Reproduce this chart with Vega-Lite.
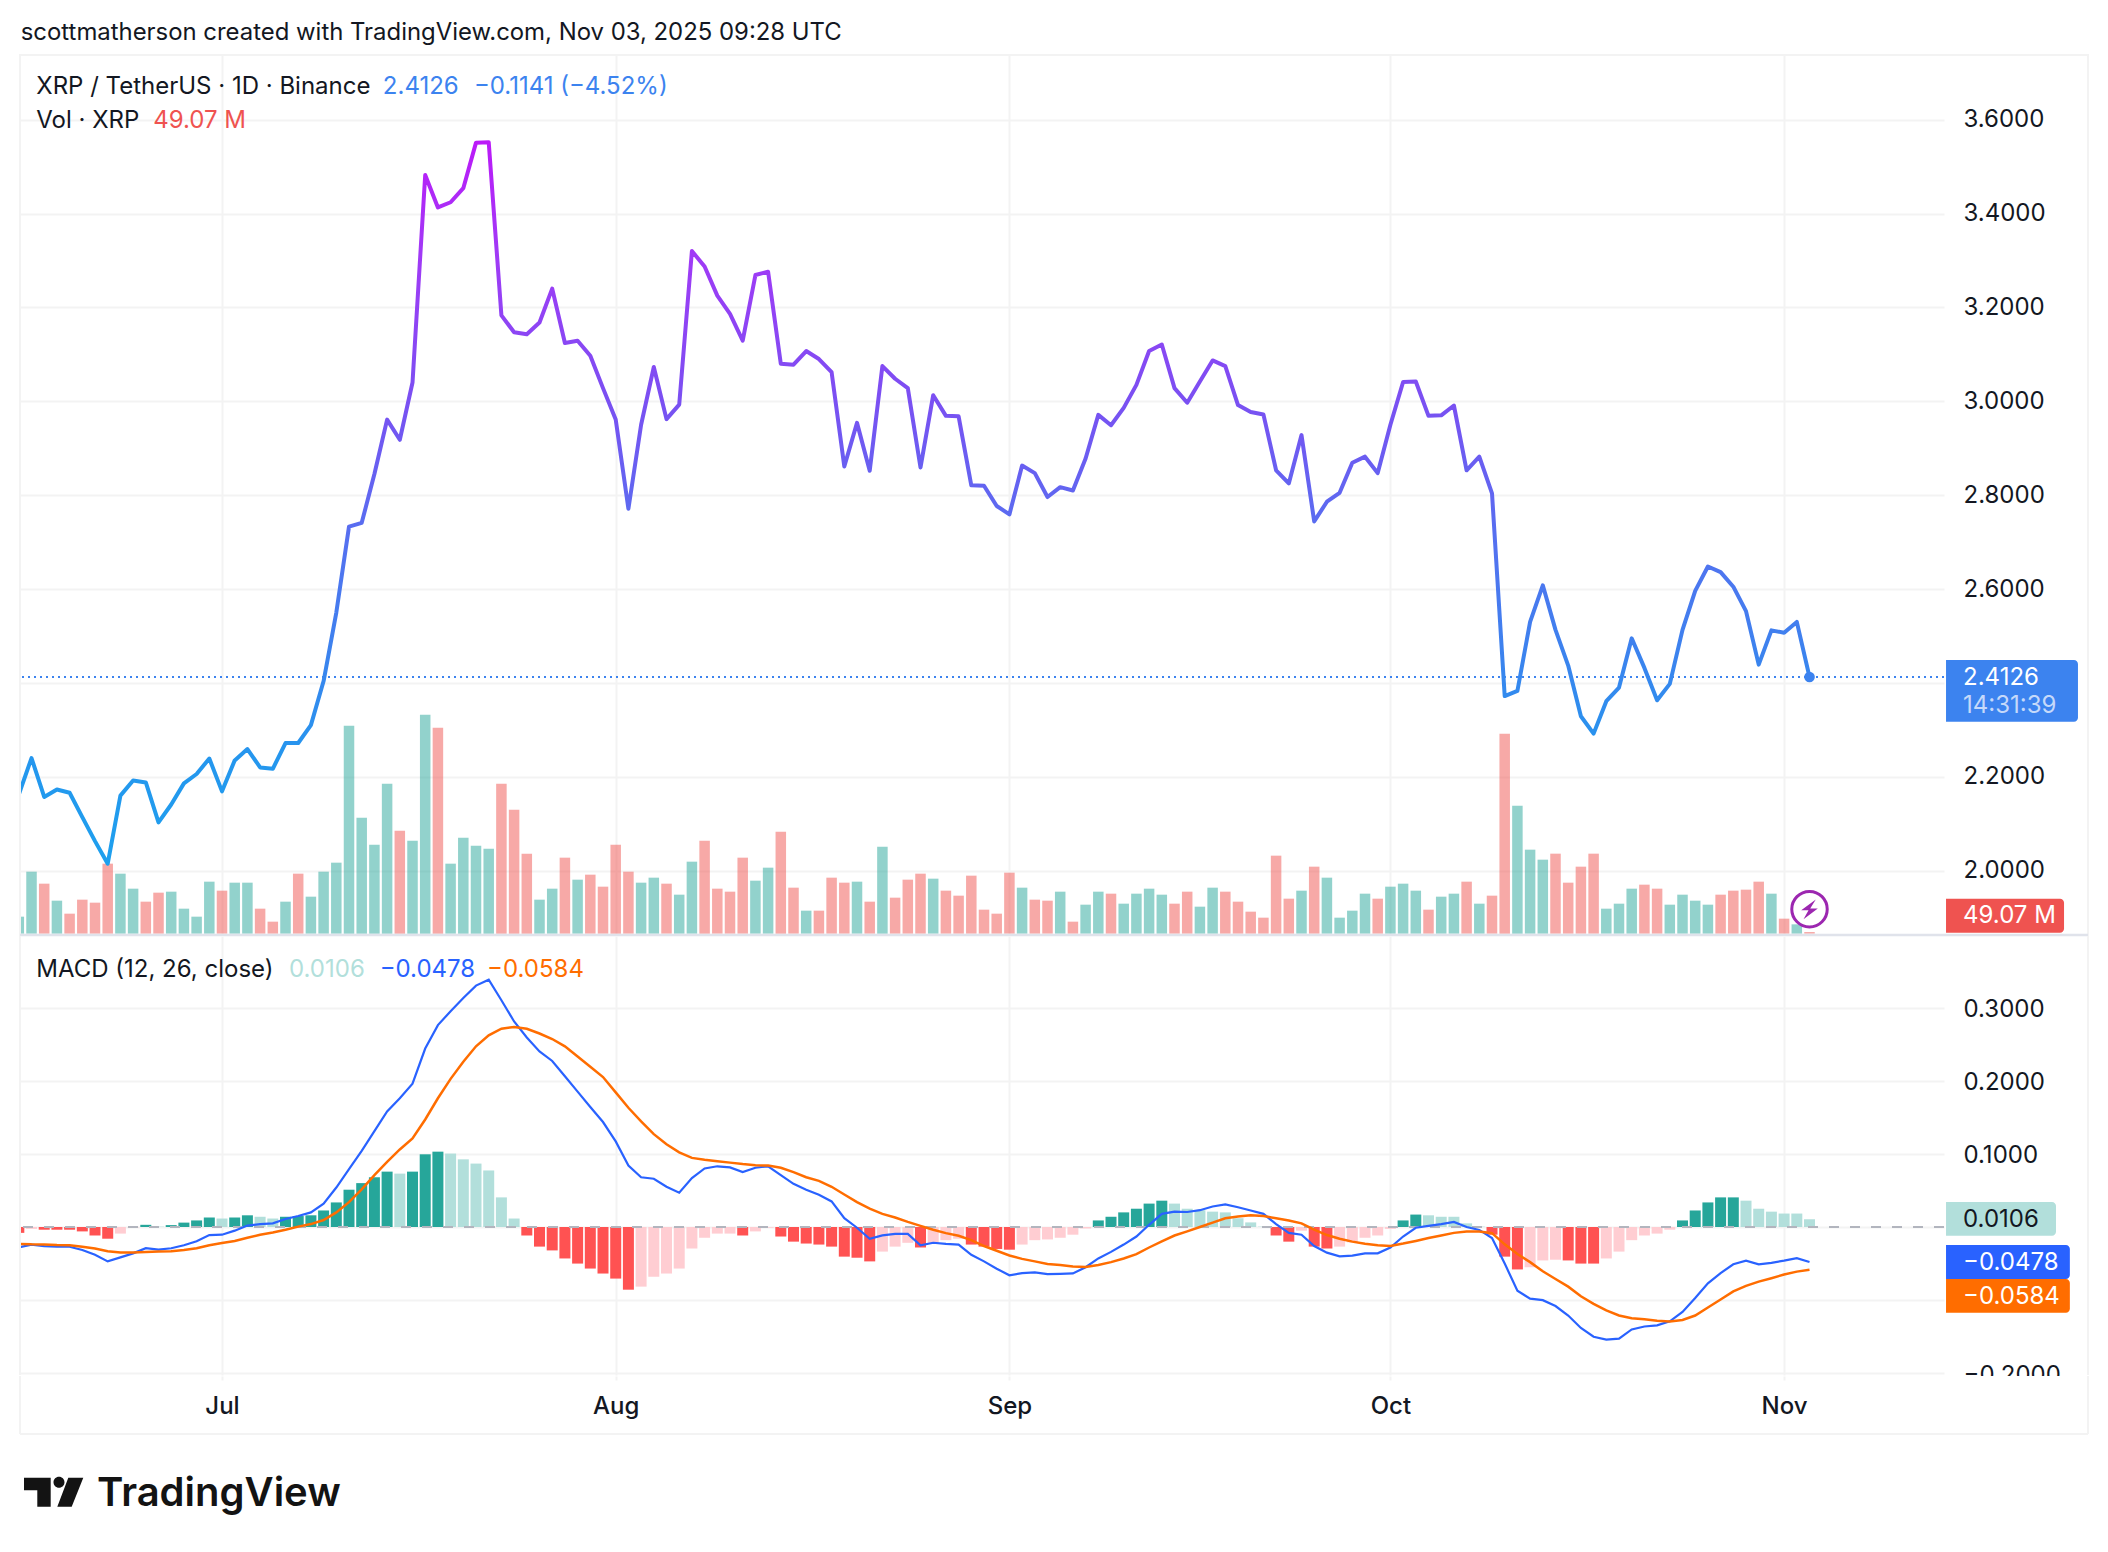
{
  "$schema": "https://vega.github.io/schema/vega-lite/v6.json",
  "background": "#ffffff",
  "padding": {"left": 18, "top": 20, "right": 0, "bottom": 16},
  "title": {"text": "scottmatherson created with TradingView.com, Nov 03, 2025 09:28 UTC", "anchor": "start", "dx": 2, "font": "Inter", "fontSize": 23.9, "fontWeight": 400, "color": "#131722", "offset": 9.3},
  "config": {
    "view": {"stroke": null},
    "axis": {"labelFont": "Inter", "labelFontSize": 24, "labelColor": "#131722", "gridColor": "#f3f3f3", "gridWidth": 2, "domain": false, "ticks": false},
    "text": {"font": "Inter", "fontSize": 24, "align": "left", "baseline": "middle", "color": "#131722"}
  },
  "datasets": {
    "daily": [
      {"date":"2025-06-15","close":2.162,"volume":510,"volDir":"up","macd":-0.028,"signal":-0.023,"hist":-0.008,"histKind":"falling"},
      {"date":"2025-06-16","close":2.24,"volume":1860,"volDir":"up","macd":-0.024,"signal":-0.0237,"hist":-0.0026,"histKind":"easing"},
      {"date":"2025-06-17","close":2.157,"volume":1500,"volDir":"down","macd":-0.026,"signal":-0.024,"hist":-0.0037,"histKind":"falling"},
      {"date":"2025-06-18","close":2.173,"volume":990,"volDir":"up","macd":-0.027,"signal":-0.0247,"hist":-0.0037,"histKind":"falling"},
      {"date":"2025-06-19","close":2.166,"volume":600,"volDir":"down","macd":-0.027,"signal":-0.025,"hist":-0.0037,"histKind":"falling"},
      {"date":"2025-06-20","close":2.114,"volume":1020,"volDir":"down","macd":-0.0315,"signal":-0.027,"hist":-0.006,"histKind":"falling"},
      {"date":"2025-06-21","close":2.063,"volume":930,"volDir":"down","macd":-0.038,"signal":-0.0295,"hist":-0.0116,"histKind":"falling"},
      {"date":"2025-06-22","close":2.015,"volume":2100,"volDir":"down","macd":-0.047,"signal":-0.033,"hist":-0.016,"histKind":"falling"},
      {"date":"2025-06-23","close":2.16,"volume":1800,"volDir":"up","macd":-0.0415,"signal":-0.0347,"hist":-0.009,"histKind":"easing"},
      {"date":"2025-06-24","close":2.192,"volume":1350,"volDir":"up","macd":-0.036,"signal":-0.0347,"hist":-0.001,"histKind":"easing"},
      {"date":"2025-06-25","close":2.188,"volume":960,"volDir":"down","macd":-0.029,"signal":-0.034,"hist":0.003,"histKind":"rising"},
      {"date":"2025-06-26","close":2.103,"volume":1230,"volDir":"down","macd":-0.031,"signal":-0.0335,"hist":0.0005,"histKind":"fading"},
      {"date":"2025-06-27","close":2.141,"volume":1260,"volDir":"up","macd":-0.029,"signal":-0.033,"hist":0.0026,"histKind":"rising"},
      {"date":"2025-06-28","close":2.186,"volume":750,"volDir":"up","macd":-0.025,"signal":-0.0315,"hist":0.006,"histKind":"rising"},
      {"date":"2025-06-29","close":2.206,"volume":510,"volDir":"up","macd":-0.0195,"signal":-0.029,"hist":0.009,"histKind":"rising"},
      {"date":"2025-06-30","close":2.239,"volume":1560,"volDir":"up","macd":-0.011,"signal":-0.025,"hist":0.013,"histKind":"rising"},
      {"date":"2025-07-01","close":2.169,"volume":1290,"volDir":"down","macd":-0.0105,"signal":-0.022,"hist":0.0116,"histKind":"fading"},
      {"date":"2025-07-02","close":2.235,"volume":1530,"volDir":"up","macd":-0.005,"signal":-0.019,"hist":0.013,"histKind":"rising"},
      {"date":"2025-07-03","close":2.259,"volume":1530,"volDir":"up","macd":0.002,"signal":-0.0147,"hist":0.016,"histKind":"rising"},
      {"date":"2025-07-04","close":2.22,"volume":750,"volDir":"down","macd":0.004,"signal":-0.0105,"hist":0.014,"histKind":"fading"},
      {"date":"2025-07-05","close":2.217,"volume":360,"volDir":"down","macd":0.005,"signal":-0.0074,"hist":0.0116,"histKind":"fading"},
      {"date":"2025-07-06","close":2.272,"volume":960,"volDir":"up","macd":0.011,"signal":-0.0037,"hist":0.014,"histKind":"rising"},
      {"date":"2025-07-07","close":2.272,"volume":1800,"volDir":"down","macd":0.015,"signal":0.0005,"hist":0.015,"histKind":"rising"},
      {"date":"2025-07-08","close":2.31,"volume":1110,"volDir":"up","macd":0.02,"signal":0.004,"hist":0.016,"histKind":"rising"},
      {"date":"2025-07-09","close":2.404,"volume":1860,"volDir":"up","macd":0.032,"signal":0.0095,"hist":0.0226,"histKind":"rising"},
      {"date":"2025-07-10","close":2.55,"volume":2130,"volDir":"up","macd":0.054,"signal":0.02,"hist":0.0336,"histKind":"rising"},
      {"date":"2025-07-11","close":2.733,"volume":6240,"volDir":"up","macd":0.079,"signal":0.034,"hist":0.051,"histKind":"rising"},
      {"date":"2025-07-12","close":2.741,"volume":3480,"volDir":"up","macd":0.104,"signal":0.0515,"hist":0.06,"histKind":"rising"},
      {"date":"2025-07-13","close":2.845,"volume":2670,"volDir":"up","macd":0.131,"signal":0.071,"hist":0.068,"histKind":"rising"},
      {"date":"2025-07-14","close":2.961,"volume":4500,"volDir":"up","macd":0.158,"signal":0.089,"hist":0.0757,"histKind":"rising"},
      {"date":"2025-07-15","close":2.918,"volume":3090,"volDir":"down","macd":0.176,"signal":0.106,"hist":0.073,"histKind":"fading"},
      {"date":"2025-07-16","close":3.04,"volume":2790,"volDir":"up","macd":0.196,"signal":0.121,"hist":0.0757,"histKind":"rising"},
      {"date":"2025-07-17","close":3.482,"volume":6570,"volDir":"up","macd":0.244,"signal":0.147,"hist":0.0994,"histKind":"rising"},
      {"date":"2025-07-18","close":3.413,"volume":6180,"volDir":"down","macd":0.276,"signal":0.176,"hist":0.103,"histKind":"rising"},
      {"date":"2025-07-19","close":3.424,"volume":2100,"volDir":"up","macd":0.295,"signal":0.2025,"hist":0.1004,"histKind":"fading"},
      {"date":"2025-07-20","close":3.454,"volume":2880,"volDir":"up","macd":0.313,"signal":0.226,"hist":0.0925,"histKind":"fading"},
      {"date":"2025-07-21","close":3.551,"volume":2640,"volDir":"up","macd":0.33,"signal":0.247,"hist":0.0867,"histKind":"fading"},
      {"date":"2025-07-22","close":3.552,"volume":2550,"volDir":"up","macd":0.338,"signal":0.262,"hist":0.0773,"histKind":"fading"},
      {"date":"2025-07-23","close":3.183,"volume":4500,"volDir":"down","macd":0.31,"signal":0.271,"hist":0.0405,"histKind":"fading"},
      {"date":"2025-07-24","close":3.147,"volume":3720,"volDir":"down","macd":0.281,"signal":0.2735,"hist":0.0116,"histKind":"fading"},
      {"date":"2025-07-25","close":3.143,"volume":2400,"volDir":"down","macd":0.259,"signal":0.271,"hist":-0.0116,"histKind":"falling"},
      {"date":"2025-07-26","close":3.168,"volume":1020,"volDir":"up","macd":0.24,"signal":0.2645,"hist":-0.0268,"histKind":"falling"},
      {"date":"2025-07-27","close":3.24,"volume":1350,"volDir":"up","macd":0.227,"signal":0.257,"hist":-0.032,"histKind":"falling"},
      {"date":"2025-07-28","close":3.124,"volume":2280,"volDir":"down","macd":0.206,"signal":0.247,"hist":-0.043,"histKind":"falling"},
      {"date":"2025-07-29","close":3.129,"volume":1620,"volDir":"up","macd":0.185,"signal":0.233,"hist":-0.05,"histKind":"falling"},
      {"date":"2025-07-30","close":3.097,"volume":1770,"volDir":"down","macd":0.164,"signal":0.219,"hist":-0.0568,"histKind":"falling"},
      {"date":"2025-07-31","close":3.028,"volume":1410,"volDir":"down","macd":0.1435,"signal":0.205,"hist":-0.0636,"histKind":"falling"},
      {"date":"2025-08-01","close":2.961,"volume":2670,"volDir":"down","macd":0.117,"signal":0.184,"hist":-0.0705,"histKind":"falling"},
      {"date":"2025-08-02","close":2.771,"volume":1860,"volDir":"down","macd":0.084,"signal":0.163,"hist":-0.0857,"histKind":"falling"},
      {"date":"2025-08-03","close":2.95,"volume":1530,"volDir":"up","macd":0.068,"signal":0.1445,"hist":-0.0815,"histKind":"easing"},
      {"date":"2025-08-04","close":3.073,"volume":1680,"volDir":"up","macd":0.066,"signal":0.127,"hist":-0.068,"histKind":"easing"},
      {"date":"2025-08-05","close":2.962,"volume":1500,"volDir":"down","macd":0.055,"signal":0.113,"hist":-0.0636,"histKind":"easing"},
      {"date":"2025-08-06","close":2.993,"volume":1170,"volDir":"up","macd":0.047,"signal":0.102,"hist":-0.0568,"histKind":"easing"},
      {"date":"2025-08-07","close":3.32,"volume":2160,"volDir":"up","macd":0.067,"signal":0.0945,"hist":-0.0294,"histKind":"easing"},
      {"date":"2025-08-08","close":3.287,"volume":2790,"volDir":"down","macd":0.08,"signal":0.092,"hist":-0.0147,"histKind":"easing"},
      {"date":"2025-08-09","close":3.225,"volume":1350,"volDir":"down","macd":0.083,"signal":0.09,"hist":-0.009,"histKind":"easing"},
      {"date":"2025-08-10","close":3.186,"volume":1260,"volDir":"down","macd":0.0815,"signal":0.088,"hist":-0.009,"histKind":"easing"},
      {"date":"2025-08-11","close":3.129,"volume":2280,"volDir":"down","macd":0.075,"signal":0.086,"hist":-0.0116,"histKind":"falling"},
      {"date":"2025-08-12","close":3.269,"volume":1590,"volDir":"up","macd":0.081,"signal":0.0845,"hist":-0.006,"histKind":"easing"},
      {"date":"2025-08-13","close":3.276,"volume":1980,"volDir":"up","macd":0.083,"signal":0.084,"hist":-0.001,"histKind":"easing"},
      {"date":"2025-08-14","close":3.08,"volume":3060,"volDir":"down","macd":0.071,"signal":0.081,"hist":-0.013,"histKind":"falling"},
      {"date":"2025-08-15","close":3.078,"volume":1380,"volDir":"down","macd":0.059,"signal":0.075,"hist":-0.02,"histKind":"falling"},
      {"date":"2025-08-16","close":3.107,"volume":690,"volDir":"up","macd":0.051,"signal":0.068,"hist":-0.0226,"histKind":"falling"},
      {"date":"2025-08-17","close":3.09,"volume":690,"volDir":"down","macd":0.044,"signal":0.063,"hist":-0.024,"histKind":"falling"},
      {"date":"2025-08-18","close":3.062,"volume":1680,"volDir":"down","macd":0.035,"signal":0.055,"hist":-0.0268,"histKind":"falling"},
      {"date":"2025-08-19","close":2.861,"volume":1530,"volDir":"down","macd":0.012,"signal":0.0445,"hist":-0.0405,"histKind":"falling"},
      {"date":"2025-08-20","close":2.954,"volume":1560,"volDir":"up","macd":-0.001,"signal":0.034,"hist":-0.042,"histKind":"falling"},
      {"date":"2025-08-21","close":2.852,"volume":960,"volDir":"down","macd":-0.016,"signal":0.025,"hist":-0.047,"histKind":"falling"},
      {"date":"2025-08-22","close":3.075,"volume":2610,"volDir":"up","macd":-0.0115,"signal":0.018,"hist":-0.0336,"histKind":"easing"},
      {"date":"2025-08-23","close":3.048,"volume":1080,"volDir":"down","macd":-0.0095,"signal":0.013,"hist":-0.0268,"histKind":"easing"},
      {"date":"2025-08-24","close":3.028,"volume":1620,"volDir":"down","macd":-0.0095,"signal":0.007,"hist":-0.0216,"histKind":"easing"},
      {"date":"2025-08-25","close":2.859,"volume":1800,"volDir":"down","macd":-0.025,"signal":0.0015,"hist":-0.028,"histKind":"falling"},
      {"date":"2025-08-26","close":3.013,"volume":1650,"volDir":"up","macd":-0.0215,"signal":-0.0037,"hist":-0.0216,"histKind":"easing"},
      {"date":"2025-08-27","close":2.969,"volume":1290,"volDir":"down","macd":-0.023,"signal":-0.0084,"hist":-0.018,"histKind":"easing"},
      {"date":"2025-08-28","close":2.968,"volume":1140,"volDir":"down","macd":-0.024,"signal":-0.012,"hist":-0.016,"histKind":"easing"},
      {"date":"2025-08-29","close":2.821,"volume":1740,"volDir":"down","macd":-0.038,"signal":-0.018,"hist":-0.024,"histKind":"falling"},
      {"date":"2025-08-30","close":2.82,"volume":720,"volDir":"down","macd":-0.047,"signal":-0.026,"hist":-0.0268,"histKind":"falling"},
      {"date":"2025-08-31","close":2.777,"volume":600,"volDir":"down","macd":-0.057,"signal":-0.0325,"hist":-0.03,"histKind":"falling"},
      {"date":"2025-09-01","close":2.759,"volume":1830,"volDir":"down","macd":-0.066,"signal":-0.039,"hist":-0.031,"histKind":"falling"},
      {"date":"2025-09-02","close":2.863,"volume":1380,"volDir":"up","macd":-0.063,"signal":-0.0436,"hist":-0.024,"histKind":"easing"},
      {"date":"2025-09-03","close":2.847,"volume":1020,"volDir":"down","macd":-0.062,"signal":-0.047,"hist":-0.018,"histKind":"easing"},
      {"date":"2025-09-04","close":2.796,"volume":990,"volDir":"down","macd":-0.0645,"signal":-0.0505,"hist":-0.017,"histKind":"easing"},
      {"date":"2025-09-05","close":2.817,"volume":1260,"volDir":"up","macd":-0.064,"signal":-0.052,"hist":-0.0147,"histKind":"easing"},
      {"date":"2025-09-06","close":2.81,"volume":360,"volDir":"down","macd":-0.0635,"signal":-0.054,"hist":-0.0105,"histKind":"easing"},
      {"date":"2025-09-07","close":2.878,"volume":870,"volDir":"up","macd":-0.055,"signal":-0.0547,"hist":-0.002,"histKind":"easing"},
      {"date":"2025-09-08","close":2.971,"volume":1260,"volDir":"up","macd":-0.043,"signal":-0.052,"hist":0.009,"histKind":"rising"},
      {"date":"2025-09-09","close":2.949,"volume":1200,"volDir":"down","macd":-0.034,"signal":-0.048,"hist":0.014,"histKind":"rising"},
      {"date":"2025-09-10","close":2.986,"volume":900,"volDir":"up","macd":-0.024,"signal":-0.043,"hist":0.02,"histKind":"rising"},
      {"date":"2025-09-11","close":3.035,"volume":1200,"volDir":"up","macd":-0.013,"signal":-0.037,"hist":0.025,"histKind":"rising"},
      {"date":"2025-09-12","close":3.107,"volume":1350,"volDir":"up","macd":0.003,"signal":-0.028,"hist":0.032,"histKind":"rising"},
      {"date":"2025-09-13","close":3.121,"volume":1170,"volDir":"up","macd":0.018,"signal":-0.0195,"hist":0.036,"histKind":"rising"},
      {"date":"2025-09-14","close":3.028,"volume":900,"volDir":"down","macd":0.021,"signal":-0.0116,"hist":0.032,"histKind":"fading"},
      {"date":"2025-09-15","close":2.997,"volume":1260,"volDir":"down","macd":0.0205,"signal":-0.006,"hist":0.025,"histKind":"fading"},
      {"date":"2025-09-16","close":3.042,"volume":810,"volDir":"up","macd":0.023,"signal":0,"hist":0.023,"histKind":"fading"},
      {"date":"2025-09-17","close":3.087,"volume":1380,"volDir":"up","macd":0.028,"signal":0.006,"hist":0.021,"histKind":"fading"},
      {"date":"2025-09-18","close":3.075,"volume":1260,"volDir":"down","macd":0.031,"signal":0.012,"hist":0.02,"histKind":"fading"},
      {"date":"2025-09-19","close":2.992,"volume":960,"volDir":"down","macd":0.027,"signal":0.0145,"hist":0.012,"histKind":"fading"},
      {"date":"2025-09-20","close":2.977,"volume":660,"volDir":"down","macd":0.0225,"signal":0.016,"hist":0.0063,"histKind":"fading"},
      {"date":"2025-09-21","close":2.972,"volume":480,"volDir":"down","macd":0.018,"signal":0.015,"hist":0.0005,"histKind":"fading"},
      {"date":"2025-09-22","close":2.853,"volume":2340,"volDir":"down","macd":0.004,"signal":0.012,"hist":-0.0116,"histKind":"falling"},
      {"date":"2025-09-23","close":2.825,"volume":1050,"volDir":"down","macd":-0.008,"signal":0.009,"hist":-0.02,"histKind":"falling"},
      {"date":"2025-09-24","close":2.928,"volume":1290,"volDir":"up","macd":-0.0105,"signal":0.005,"hist":-0.005,"histKind":"easing"},
      {"date":"2025-09-25","close":2.744,"volume":2010,"volDir":"down","macd":-0.026,"signal":-0.0037,"hist":-0.0268,"histKind":"falling"},
      {"date":"2025-09-26","close":2.786,"volume":1680,"volDir":"up","macd":-0.035,"signal":-0.011,"hist":-0.0294,"histKind":"falling"},
      {"date":"2025-09-27","close":2.805,"volume":480,"volDir":"up","macd":-0.04,"signal":-0.016,"hist":-0.0268,"histKind":"easing"},
      {"date":"2025-09-28","close":2.869,"volume":690,"volDir":"up","macd":-0.039,"signal":-0.02,"hist":-0.021,"histKind":"easing"},
      {"date":"2025-09-29","close":2.882,"volume":1200,"volDir":"up","macd":-0.036,"signal":-0.023,"hist":-0.0147,"histKind":"easing"},
      {"date":"2025-09-30","close":2.847,"volume":1050,"volDir":"down","macd":-0.036,"signal":-0.025,"hist":-0.0116,"histKind":"easing"},
      {"date":"2025-10-01","close":2.95,"volume":1410,"volDir":"up","macd":-0.028,"signal":-0.0258,"hist":-0.0026,"histKind":"easing"},
      {"date":"2025-10-02","close":3.041,"volume":1500,"volDir":"up","macd":-0.013,"signal":-0.0226,"hist":0.009,"histKind":"rising"},
      {"date":"2025-10-03","close":3.042,"volume":1290,"volDir":"up","macd":-0.001,"signal":-0.019,"hist":0.017,"histKind":"rising"},
      {"date":"2025-10-04","close":2.969,"volume":720,"volDir":"down","macd":0.0015,"signal":-0.015,"hist":0.016,"histKind":"fading"},
      {"date":"2025-10-05","close":2.97,"volume":1110,"volDir":"up","macd":0.004,"signal":-0.0116,"hist":0.014,"histKind":"fading"},
      {"date":"2025-10-06","close":2.991,"volume":1200,"volDir":"up","macd":0.007,"signal":-0.008,"hist":0.014,"histKind":"fading"},
      {"date":"2025-10-07","close":2.853,"volume":1560,"volDir":"down","macd":0,"signal":-0.006,"hist":0.005,"histKind":"fading"},
      {"date":"2025-10-08","close":2.882,"volume":900,"volDir":"up","macd":-0.004,"signal":-0.006,"hist":0.0005,"histKind":"fading"},
      {"date":"2025-10-09","close":2.804,"volume":1140,"volDir":"down","macd":-0.015,"signal":-0.0084,"hist":-0.0105,"histKind":"falling"},
      {"date":"2025-10-10","close":2.372,"volume":6000,"volDir":"down","macd":-0.05,"signal":-0.0237,"hist":-0.0405,"histKind":"falling"},
      {"date":"2025-10-11","close":2.383,"volume":3840,"volDir":"up","macd":-0.087,"signal":-0.037,"hist":-0.058,"histKind":"falling"},
      {"date":"2025-10-12","close":2.53,"volume":2520,"volDir":"up","macd":-0.098,"signal":-0.048,"hist":-0.055,"histKind":"easing"},
      {"date":"2025-10-13","close":2.608,"volume":2220,"volDir":"up","macd":-0.1,"signal":-0.0605,"hist":-0.0457,"histKind":"easing"},
      {"date":"2025-10-14","close":2.513,"volume":2400,"volDir":"down","macd":-0.108,"signal":-0.071,"hist":-0.0447,"histKind":"easing"},
      {"date":"2025-10-15","close":2.437,"volume":1530,"volDir":"down","macd":-0.121,"signal":-0.0815,"hist":-0.0457,"histKind":"falling"},
      {"date":"2025-10-16","close":2.329,"volume":2010,"volDir":"down","macd":-0.138,"signal":-0.0946,"hist":-0.05,"histKind":"falling"},
      {"date":"2025-10-17","close":2.292,"volume":2400,"volDir":"down","macd":-0.15,"signal":-0.105,"hist":-0.05,"histKind":"falling"},
      {"date":"2025-10-18","close":2.361,"volume":750,"volDir":"up","macd":-0.154,"signal":-0.114,"hist":-0.043,"histKind":"easing"},
      {"date":"2025-10-19","close":2.39,"volume":900,"volDir":"up","macd":-0.1525,"signal":-0.121,"hist":-0.0336,"histKind":"easing"},
      {"date":"2025-10-20","close":2.495,"volume":1350,"volDir":"up","macd":-0.14,"signal":-0.1246,"hist":-0.018,"histKind":"easing"},
      {"date":"2025-10-21","close":2.432,"volume":1470,"volDir":"down","macd":-0.136,"signal":-0.126,"hist":-0.0116,"histKind":"easing"},
      {"date":"2025-10-22","close":2.363,"volume":1350,"volDir":"down","macd":-0.1345,"signal":-0.128,"hist":-0.009,"histKind":"easing"},
      {"date":"2025-10-23","close":2.398,"volume":870,"volDir":"up","macd":-0.129,"signal":-0.129,"hist":-0.0037,"histKind":"easing"},
      {"date":"2025-10-24","close":2.513,"volume":1170,"volDir":"up","macd":-0.116,"signal":-0.127,"hist":0.009,"histKind":"rising"},
      {"date":"2025-10-25","close":2.596,"volume":990,"volDir":"up","macd":-0.097,"signal":-0.121,"hist":0.0226,"histKind":"rising"},
      {"date":"2025-10-26","close":2.648,"volume":870,"volDir":"up","macd":-0.077,"signal":-0.11,"hist":0.0336,"histKind":"rising"},
      {"date":"2025-10-27","close":2.636,"volume":1170,"volDir":"down","macd":-0.063,"signal":-0.099,"hist":0.0405,"histKind":"rising"},
      {"date":"2025-10-28","close":2.605,"volume":1290,"volDir":"down","macd":-0.051,"signal":-0.088,"hist":0.0405,"histKind":"rising"},
      {"date":"2025-10-29","close":2.553,"volume":1320,"volDir":"down","macd":-0.046,"signal":-0.0805,"hist":0.036,"histKind":"fading"},
      {"date":"2025-10-30","close":2.439,"volume":1560,"volDir":"down","macd":-0.051,"signal":-0.0747,"hist":0.025,"histKind":"fading"},
      {"date":"2025-10-31","close":2.512,"volume":1200,"volDir":"up","macd":-0.049,"signal":-0.07,"hist":0.021,"histKind":"fading"},
      {"date":"2025-11-01","close":2.507,"volume":450,"volDir":"down","macd":-0.046,"signal":-0.065,"hist":0.0184,"histKind":"fading"},
      {"date":"2025-11-02","close":2.53,"volume":280,"volDir":"up","macd":-0.0425,"signal":-0.061,"hist":0.0184,"histKind":"fading"},
      {"date":"2025-11-03","close":2.4126,"volume":49.07,"volDir":"down","macd":-0.0478,"signal":-0.0584,"hist":0.0106,"histKind":"fading"}
    ]
  },
  "bounds": "flush",
  "spacing": 1,
  "resolve": {"scale": {"color": "independent"}},
  "vconcat": [
    {
      "width": 1924,
      "height": 880,
      "data": {"values": [{}]},
      "resolve": {"scale": {"y": "independent"}, "axis": {"y": "independent"}},
      "layer": [
        {
          "data": {"name": "daily"},
          "mark": {"type": "bar", "size": 10.5, "clip": true, "opacity": 0.5},
          "encoding": {
            "x": {
              "field": "date", "type": "temporal",
              "scale": {"type": "utc", "padding": 0, "domain": [{"year": 2025, "month": "jun", "date": 15, "hours": 2, "minutes": 15, "utc": true}, {"year": 2025, "month": "nov", "date": 13, "hours": 14, "minutes": 10, "utc": true}]},
              "axis": {"title": null, "labels": false, "grid": true, "values": [{"year": 2025, "month": "jul", "date": 1, "utc": true}, {"year": 2025, "month": "aug", "date": 1, "utc": true}, {"year": 2025, "month": "sep", "date": 1, "utc": true}, {"year": 2025, "month": "oct", "date": 1, "utc": true}, {"year": 2025, "month": "nov", "date": 1, "utc": true}]}
            },
            "y": {"field": "volume", "type": "quantitative", "stack": null, "axis": null, "scale": {"domain": [-40, 26360], "nice": false, "zero": false}},
            "color": {"field": "volDir", "type": "nominal", "legend": null, "scale": {"domain": ["up", "down"], "range": ["#26a69a", "#ef5350"]}}
          }
        },
        {
          "layer": [
            {
              "mark": {"type": "rule", "color": "#3c83ef", "strokeWidth": 2, "strokeDash": [2, 4]},
              "encoding": {
                "y": {
                  "datum": 2.4126,
                  "scale": {"domain": [1.863, 3.7377], "nice": false, "zero": false},
                  "axis": {"title": null, "orient": "right", "grid": true, "labelExpr": "abs(datum.value - 2.4) < 0.001 ? '' : format(datum.value, '.4f')", "labelPadding": 19, "values": [2.0, 2.2, 2.4, 2.6, 2.8, 3.0, 3.2, 3.4, 3.6]}
                }
              }
            },
            {
              "data": {"name": "daily"},
              "mark": {
                "type": "line", "clip": true, "strokeWidth": 4, "strokeJoin": "round",
                "stroke": {
                  "gradient": "linear", "x1": 0, "y1": 1, "x2": 0, "y2": 0,
                  "stops": [
                    {"offset": 0, "color": "#1ea0ee"},
                    {"offset": 0.15, "color": "#2596ee"},
                    {"offset": 0.28, "color": "#3a84ee"},
                    {"offset": 0.45, "color": "#5570f0"},
                    {"offset": 0.64, "color": "#7a50f2"},
                    {"offset": 0.84, "color": "#a03af6"},
                    {"offset": 1, "color": "#bb1af8"}
                  ]
                }
              },
              "encoding": {
                "x": {"field": "date", "type": "temporal"},
                "y": {"field": "close", "type": "quantitative"}
              }
            },
            {
              "mark": {"type": "point", "filled": true, "size": 113, "color": "#3c83ef", "opacity": 1},
              "encoding": {"x": {"datum": {"year": 2025, "month": "nov", "date": 3, "utc": true}, "type": "temporal"}, "y": {"datum": 2.4126}}
            },
            {
              "mark": {"type": "point", "filled": true, "fill": "#ffffff", "stroke": "#9c27b0", "strokeWidth": 3, "size": 1257, "opacity": 1},
              "encoding": {"x": {"datum": {"year": 2025, "month": "nov", "date": 3, "utc": true}, "type": "temporal"}, "y": {"datum": 1.918}}
            },
            {
              "mark": {"type": "point", "filled": true, "color": "#9c27b0", "size": 4, "opacity": 1, "strokeWidth": 0, "shape": "M6.3 -9.7L-8.3 1L-1 1L-6 10L8.3 -0.7L0.7 -0.7Z"},
              "encoding": {"x": {"datum": {"year": 2025, "month": "nov", "date": 3, "utc": true}, "type": "temporal"}, "y": {"datum": 1.918}}
            },
            {
              "mark": {"type": "rect", "color": "#3c83ef", "cornerRadiusTopRight": 4, "cornerRadiusBottomRight": 4},
              "encoding": {"x": {"datum": {"year": 2025, "month": "nov", "date": 13, "hours": 18, "utc": true}, "type": "temporal"}, "x2": {"datum": {"year": 2025, "month": "nov", "date": 24, "hours": 3, "minutes": 20, "utc": true}}, "y": {"datum": 2.449}, "y2": {"datum": 2.3174}}
            },
            {
              "mark": {"type": "rect", "color": "#ef5350", "cornerRadiusTopRight": 4, "cornerRadiusBottomRight": 4},
              "encoding": {"x": {"datum": {"year": 2025, "month": "nov", "date": 13, "hours": 18, "utc": true}, "type": "temporal"}, "x2": {"datum": {"year": 2025, "month": "nov", "date": 23, "hours": 1, "utc": true}}, "y": {"datum": 1.94}, "y2": {"datum": 1.868}}
            },
            {
              "mark": {"type": "rect", "filled": false, "stroke": "#f3f3f3", "strokeWidth": 2},
              "encoding": {"x": {"datum": {"year": 2025, "month": "jun", "date": 15, "hours": 2, "minutes": 15, "utc": true}, "type": "temporal"}, "x2": {"datum": {"year": 2025, "month": "nov", "date": 24, "hours": 22, "minutes": 20, "utc": true}}, "y": {"datum": 3.7377}, "y2": {"datum": 1.863}}
            },
            {
              "mark": {"type": "rule", "color": "#e0e3eb", "strokeWidth": 2.5},
              "encoding": {"x": {"datum": {"year": 2025, "month": "jun", "date": 15, "hours": 2, "minutes": 15, "utc": true}, "type": "temporal"}, "x2": {"datum": {"year": 2025, "month": "nov", "date": 24, "hours": 22, "minutes": 20, "utc": true}}, "y": {"datum": 1.863}}
            },
            {"mark": {"type": "text", "color": "#ffffff"}, "encoding": {"x": {"datum": {"year": 2025, "month": "nov", "date": 15, "hours": 2, "minutes": 10, "utc": true}, "type": "temporal"}, "y": {"datum": 2.41}, "text": {"value": "2.4126"}}},
            {"mark": {"type": "text", "color": "#c5d9fa"}, "encoding": {"x": {"datum": {"year": 2025, "month": "nov", "date": 15, "hours": 2, "minutes": 10, "utc": true}, "type": "temporal"}, "y": {"datum": 2.35}, "text": {"value": "14:31:39"}}},
            {"mark": {"type": "text", "color": "#ffffff"}, "encoding": {"x": {"datum": {"year": 2025, "month": "nov", "date": 15, "hours": 2, "minutes": 10, "utc": true}, "type": "temporal"}, "y": {"datum": 1.9037}, "text": {"value": "49.07 M"}}},
            {"mark": {"type": "text"}, "encoding": {"x": {"datum": {"year": 2025, "month": "jun", "date": 16, "hours": 9, "utc": true}, "type": "temporal"}, "y": {"datum": 3.67}, "text": {"value": "XRP / TetherUS · 1D · Binance"}}},
            {"mark": {"type": "text", "color": "#3c83ef"}, "encoding": {"x": {"datum": {"year": 2025, "month": "jul", "date": 13, "hours": 16, "utc": true}, "type": "temporal"}, "y": {"datum": 3.67}, "text": {"value": "2.4126"}}},
            {"mark": {"type": "text", "color": "#3c83ef"}, "encoding": {"x": {"datum": {"year": 2025, "month": "jul", "date": 20, "hours": 20, "utc": true}, "type": "temporal"}, "y": {"datum": 3.67}, "text": {"value": "−0.1141 (−4.52%)"}}},
            {"mark": {"type": "text"}, "encoding": {"x": {"datum": {"year": 2025, "month": "jun", "date": 16, "hours": 9, "utc": true}, "type": "temporal"}, "y": {"datum": 3.597}, "text": {"value": "Vol · XRP"}}},
            {"mark": {"type": "text", "color": "#ef5350"}, "encoding": {"x": {"datum": {"year": 2025, "month": "jun", "date": 25, "hours": 14, "utc": true}, "type": "temporal"}, "y": {"datum": 3.597}, "text": {"value": "49.07 M"}}}
          ]
        }
      ]
    },
    {
      "width": 1924,
      "height": 439,
      "data": {"values": [{}]},
      "layer": [
        {
          "data": {"name": "daily"},
          "mark": {"type": "bar", "size": 11, "clip": true},
          "encoding": {
            "x": {
              "field": "date", "type": "temporal",
              "scale": {"type": "utc", "padding": 0, "domain": [{"year": 2025, "month": "jun", "date": 15, "hours": 2, "minutes": 15, "utc": true}, {"year": 2025, "month": "nov", "date": 13, "hours": 14, "minutes": 10, "utc": true}]},
              "axis": {"title": null, "labels": false, "grid": true, "values": [{"year": 2025, "month": "jul", "date": 1, "utc": true}, {"year": 2025, "month": "aug", "date": 1, "utc": true}, {"year": 2025, "month": "sep", "date": 1, "utc": true}, {"year": 2025, "month": "oct", "date": 1, "utc": true}, {"year": 2025, "month": "nov", "date": 1, "utc": true}]}
            },
            "y": {
              "field": "hist", "type": "quantitative", "stack": null,
              "scale": {"domain": [-0.2023, 0.3978], "nice": false, "zero": false},
              "axis": {"title": null, "orient": "right", "grid": true, "labelExpr": "abs(datum.value) < 0.001 || abs(datum.value + 0.1) < 0.001 ? '' : format(datum.value, '.4f')", "labelPadding": 19, "labelOffset": 2, "values": [-0.2, -0.1, 0, 0.1, 0.2, 0.3]}
            },
            "color": {"field": "histKind", "type": "nominal", "legend": null, "scale": {"domain": ["rising", "fading", "falling", "easing"], "range": ["#26a69a", "#b2dfdb", "#ff5252", "#ffcdd2"]}}
          }
        },
        {
          "mark": {"type": "rule", "color": "#b2b5be", "strokeWidth": 2, "strokeDash": [10, 11]},
          "encoding": {"y": {"datum": 0}}
        },
        {
          "data": {"name": "daily"},
          "mark": {"type": "line", "clip": true, "color": "#2962ff", "strokeWidth": 2.2},
          "encoding": {"x": {"field": "date", "type": "temporal"}, "y": {"field": "macd", "type": "quantitative"}}
        },
        {
          "data": {"name": "daily"},
          "mark": {"type": "line", "clip": true, "color": "#ff6d00", "strokeWidth": 2.5},
          "encoding": {"x": {"field": "date", "type": "temporal"}, "y": {"field": "signal", "type": "quantitative"}}
        },
        {
          "mark": {"type": "rect", "color": "#b2dfdb", "cornerRadiusTopRight": 4, "cornerRadiusBottomRight": 4},
          "encoding": {"x": {"datum": {"year": 2025, "month": "nov", "date": 13, "hours": 18, "utc": true}, "type": "temporal"}, "x2": {"datum": {"year": 2025, "month": "nov", "date": 22, "hours": 9, "minutes": 50, "utc": true}}, "y": {"datum": 0.0342}, "y2": {"datum": -0.0119}}
        },
        {
          "mark": {"type": "rect", "color": "#2962ff", "cornerRadiusTopRight": 4, "cornerRadiusBottomRight": 4},
          "encoding": {"x": {"datum": {"year": 2025, "month": "nov", "date": 13, "hours": 18, "utc": true}, "type": "temporal"}, "x2": {"datum": {"year": 2025, "month": "nov", "date": 23, "hours": 12, "utc": true}}, "y": {"datum": -0.0246}, "y2": {"datum": -0.0711}}
        },
        {
          "mark": {"type": "rect", "color": "#ff6d00", "cornerRadiusTopRight": 4, "cornerRadiusBottomRight": 4},
          "encoding": {"x": {"datum": {"year": 2025, "month": "nov", "date": 13, "hours": 18, "utc": true}, "type": "temporal"}, "x2": {"datum": {"year": 2025, "month": "nov", "date": 23, "hours": 12, "utc": true}}, "y": {"datum": -0.0711}, "y2": {"datum": -0.1172}}
        },
        {
          "mark": {"type": "rule", "color": "#f3f3f3", "strokeWidth": 2},
          "encoding": {"x": {"datum": {"year": 2025, "month": "jun", "date": 15, "hours": 2, "minutes": 15, "utc": true}, "type": "temporal"}, "y": {"datum": -0.2023}, "y2": {"datum": 0.3978}}
        },
        {
          "mark": {"type": "rule", "color": "#f3f3f3", "strokeWidth": 2},
          "encoding": {"x": {"datum": {"year": 2025, "month": "nov", "date": 24, "hours": 22, "minutes": 20, "utc": true}, "type": "temporal"}, "y": {"datum": -0.2023}, "y2": {"datum": 0.3978}}
        },
        {"mark": {"type": "text"}, "encoding": {"x": {"datum": {"year": 2025, "month": "nov", "date": 15, "hours": 2, "minutes": 10, "utc": true}, "type": "temporal"}, "y": {"datum": 0.0102}, "text": {"value": "0.0106"}}},
        {"mark": {"type": "text", "color": "#ffffff"}, "encoding": {"x": {"datum": {"year": 2025, "month": "nov", "date": 15, "hours": 2, "minutes": 10, "utc": true}, "type": "temporal"}, "y": {"datum": -0.0492}, "text": {"value": "−0.0478"}}},
        {"mark": {"type": "text", "color": "#ffffff"}, "encoding": {"x": {"datum": {"year": 2025, "month": "nov", "date": 15, "hours": 2, "minutes": 10, "utc": true}, "type": "temporal"}, "y": {"datum": -0.0957}, "text": {"value": "−0.0584"}}},
        {"mark": {"type": "text"}, "encoding": {"x": {"datum": {"year": 2025, "month": "jun", "date": 16, "hours": 9, "utc": true}, "type": "temporal"}, "y": {"datum": 0.3513}, "text": {"value": "MACD (12, 26, close)"}}},
        {"mark": {"type": "text", "color": "#b2dfdb"}, "encoding": {"x": {"datum": {"year": 2025, "month": "jul", "date": 6, "hours": 6, "minutes": 40, "utc": true}, "type": "temporal"}, "y": {"datum": 0.3513}, "text": {"value": "0.0106"}}},
        {"mark": {"type": "text", "color": "#2962ff"}, "encoding": {"x": {"datum": {"year": 2025, "month": "jul", "date": 13, "hours": 10, "utc": true}, "type": "temporal"}, "y": {"datum": 0.3513}, "text": {"value": "−0.0478"}}},
        {"mark": {"type": "text", "color": "#ff6d00"}, "encoding": {"x": {"datum": {"year": 2025, "month": "jul", "date": 21, "hours": 21, "utc": true}, "type": "temporal"}, "y": {"datum": 0.3513}, "text": {"value": "−0.0584"}}}
      ]
    },
    {
      "width": 2068,
      "height": 58,
      "view": {"fill": "#ffffff"},
      "data": {"values": [{}]},
      "layer": [
        {
          "mark": {"type": "rule", "color": "#f3f3f3", "strokeWidth": 2},
          "encoding": {
            "x": {
              "datum": {"year": 2025, "month": "jun", "date": 15, "hours": 2, "minutes": 15, "utc": true}, "type": "temporal",
              "scale": {"type": "utc", "domain": [{"year": 2025, "month": "jun", "date": 15, "hours": 2, "minutes": 15, "utc": true}, {"year": 2025, "month": "nov", "date": 13, "hours": 14, "minutes": 10, "utc": true}], "range": [0, 1924]},
              "axis": {"title": null, "orient": "bottom", "offset": -58, "labelExpr": "utcFormat(datum.value, '%b')", "labelFontWeight": 500, "labelPadding": 14, "labelFlush": false, "labelBound": false, "ticks": true, "tickColor": "#f3f3f3", "tickWidth": 2, "tickSize": 4, "values": [{"year": 2025, "month": "jul", "date": 1, "utc": true}, {"year": 2025, "month": "aug", "date": 1, "utc": true}, {"year": 2025, "month": "sep", "date": 1, "utc": true}, {"year": 2025, "month": "oct", "date": 1, "utc": true}, {"year": 2025, "month": "nov", "date": 1, "utc": true}]}
            },
            "y": {"datum": 0, "axis": null, "scale": {"domain": [0, 58], "nice": false, "zero": false}},
            "y2": {"datum": 58}
          }
        },
        {
          "mark": {"type": "rule", "color": "#f3f3f3", "strokeWidth": 2},
          "encoding": {"x": {"datum": {"year": 2025, "month": "nov", "date": 24, "hours": 22, "minutes": 20, "utc": true}, "type": "temporal"}, "y": {"datum": 0}, "y2": {"datum": 58}}
        },
        {
          "mark": {"type": "rule", "color": "#f3f3f3", "strokeWidth": 2},
          "encoding": {"x": {"datum": {"year": 2025, "month": "jun", "date": 15, "hours": 2, "minutes": 15, "utc": true}, "type": "temporal"}, "x2": {"datum": {"year": 2025, "month": "nov", "date": 24, "hours": 22, "minutes": 20, "utc": true}}, "y": {"datum": 0}}
        },
        {
          "mark": {"type": "point", "filled": true, "color": "#131313", "size": 4, "opacity": 1, "strokeWidth": 0, "shape": "M-30 -14.3L-3.3 -14.3L-3.3 14.7L-16.7 14.7L-16.7 -1.7L-30 -1.7ZM10.5 -9.7A5.5 5.5 0 1 1 -0.5 -9.7A5.5 5.5 0 1 1 10.5 -9.7ZM14.3 -14.3L29.3 -14.3L17.7 14.7L3.3 14.7Z"},
          "encoding": {"x": {"datum": {"year": 2025, "month": "jun", "date": 17, "hours": 18, "minutes": 30, "utc": true}, "type": "temporal"}, "y": {"datum": -58}}
        },
        {
          "mark": {"type": "text", "fontSize": 40, "fontWeight": 600, "baseline": "alphabetic", "color": "#131313"},
          "encoding": {"x": {"datum": {"year": 2025, "month": "jun", "date": 21, "hours": 3, "minutes": 45, "utc": true}, "type": "temporal"}, "y": {"datum": -72}, "text": {"value": "TradingView"}}
        }
      ]
    }
  ]
}
